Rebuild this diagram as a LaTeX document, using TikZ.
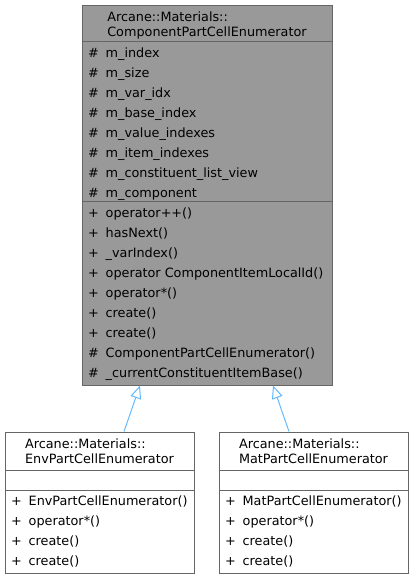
\documentclass[tikz,border=0pt]{standalone}
\usepackage{fontspec}
\setmainfont{DejaVu Sans}
\usetikzlibrary{arrows.meta}
\definecolor{boxedge}{HTML}{666666}
\definecolor{boxgrey}{HTML}{999999}
\definecolor{linkblue}{HTML}{63B8FF}
\tikzset{
  classbox/.style={draw=boxedge, line width=1pt, inner sep=0pt},
  member/.style={anchor=base west, inner sep=0pt, font=\fontsize{12.8}{15}\selectfont},
  classname/.style={anchor=north, align=left, inner sep=0pt, font=\fontsize{12.8}{15}\selectfont},
  divider/.style={draw=boxedge, line width=1pt},
  inherit/.style={draw=linkblue, line width=1pt, -{Triangle[open, length=13pt, width=11pt, fill=white]}}
}

\begin{document}
\begin{tikzpicture}[x=1pt, y=-1pt]
    \useasboundingbox (0,0) rectangle (413,579);
    % base class
    \node[classbox, fill=boxgrey, minimum width=250pt, minimum height=380pt] (base) at (207,195) {};
    \node[classname] (basename) at (207,11.5) {Arcane::Materials::\\ComponentPartCellEnumerator};
    \draw[divider] ([yshift=-37pt]base.north west) -- ([yshift=-37pt]base.north east);
    \draw[divider] ([yshift=-197pt]base.north west) -- ([yshift=-197pt]base.north east);
    \foreach \txt [count=\i from 0] in {m\_index, m\_size, m\_var\_idx, m\_base\_index,
        m\_value\_indexes, m\_item\_indexes, m\_constituent\_list\_view, m\_component} {
        \node[member] (basemk\i) at (88,57+20*\i) {\#};
        \node[member] (baseattr\i) at (105.5,57+20*\i) {\txt};
    }
    \foreach \mk/\txt [count=\i from 0] in {+/operator++(), +/hasNext(), +/\_varIndex(),
        +/operator ComponentItemLocalId(), +/operator*(), +/create(), +/create(),
        \#/ComponentPartCellEnumerator(), \#/\_currentConstituentItemBase()} {
        \node[member] (basemm\i) at (88,217+20*\i) {\mk};
        \node[member] (basemeth\i) at (105.5,217+20*\i) {\txt};
    }

    % derived classes
    \node[classbox, fill=white, minimum width=189pt, minimum height=141pt] (env) at (99.5,502.5) {};
    \node[classname] (envname) at (99.5,438.5) {Arcane::Materials::\\EnvPartCellEnumerator};
    \draw[divider] ([yshift=-39pt]env.north west) -- ([yshift=-39pt]env.north east);
    \draw[divider] ([yshift=-59pt]env.north west) -- ([yshift=-59pt]env.north east);
    \foreach \txt [count=\i from 0] in {EnvPartCellEnumerator(), operator*(), create(), create()} {
        \node[member] (envmk\i) at (11,505+20*\i) {+};
        \node[member] (envmeth\i) at (28.5,505+20*\i) {\txt};
    }

    \node[classbox, fill=white, minimum width=189pt, minimum height=141pt] (mat) at (313.5,502.5) {};
    \node[classname] (matname) at (313.5,438.5) {Arcane::Materials::\\MatPartCellEnumerator};
    \draw[divider] ([yshift=-39pt]mat.north west) -- ([yshift=-39pt]mat.north east);
    \draw[divider] ([yshift=-59pt]mat.north west) -- ([yshift=-59pt]mat.north east);
    \foreach \txt [count=\i from 0] in {MatPartCellEnumerator(), operator*(), create(), create()} {
        \node[member] (matmk\i) at (225,505+20*\i) {+};
        \node[member] (matmeth\i) at (242.5,505+20*\i) {\txt};
    }

    % inheritance
    \draw[inherit] ([xshift=24.5pt]env.north) -- ([xshift=-67pt]base.south);
    \draw[inherit] ([xshift=-24.5pt]mat.north) -- ([xshift=66pt]base.south);
\end{tikzpicture}
\end{document}
